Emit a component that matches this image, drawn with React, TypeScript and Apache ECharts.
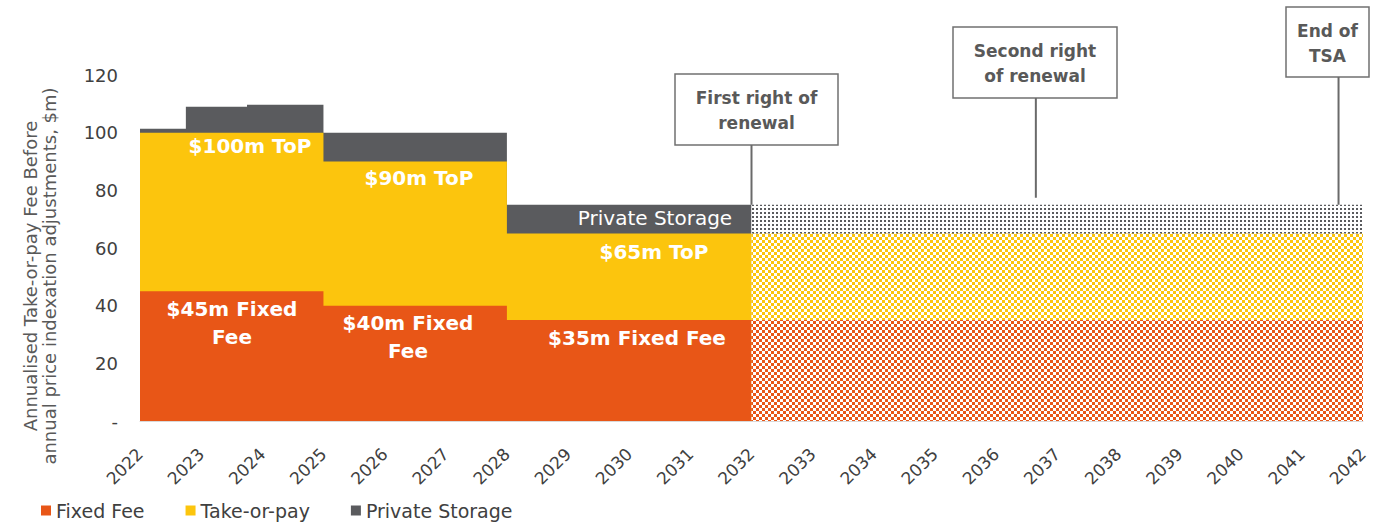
import React, { useEffect, useRef } from "react";
import * as echarts from "echarts";

// ---------- data ----------
const segmentStarts = [2022, 2022.75, 2023.75, 2025, 2028];
const segmentEnds = [2022.75, 2023.75, 2025, 2028, 2032];
const fixedFee = [45, 45, 45, 40, 35];
const takeOrPay = [55, 55, 55, 50, 30];
const privateStorage = [1.4, 9, 9.7, 10, 10];

const optionStart = 2032;
const optionEnd = 2042;
const optionFixedFee = 35;
const optionTakeOrPay = 30;
const optionPrivateStorage = 10;

const annotationYears = [2032, 2036.65, 2041.6];
const annotationTexts = ["First right of\nrenewal", "Second right\nof renewal", "End of\nTSA"];

const legendNames = ["Fixed Fee", "Take-or-pay", "Private Storage"];

const ORANGE = "#E85617";
const YELLOW = "#FCC50D";
const GRAY = "#5A5B5E";
const FONT = "DejaVu Sans";

function stepPoints(values: number[]) {
  const pts: number[][] = [];
  values.forEach((v, i) => {
    pts.push([segmentStarts[i], v]);
    pts.push([segmentEnds[i], v]);
  });
  return pts;
}

function checker(color: string, cell: number) {
  const c = document.createElement("canvas");
  c.width = cell * 2;
  c.height = cell * 2;
  const ctx = c.getContext("2d")!;
  ctx.fillStyle = "#ffffff";
  ctx.fillRect(0, 0, cell * 2, cell * 2);
  ctx.fillStyle = color;
  ctx.fillRect(0, 0, cell, cell);
  ctx.fillRect(cell, cell, cell, cell);
  return c;
}

function dots(color: string) {
  const c = document.createElement("canvas");
  c.width = 4;
  c.height = 4;
  const ctx = c.getContext("2d")!;
  ctx.fillStyle = "#ffffff";
  ctx.fillRect(0, 0, 4, 4);
  ctx.fillStyle = color;
  ctx.fillRect(0, 0, 2, 2);
  return c;
}

export default function App() {
  const ref = useRef<HTMLDivElement>(null);

  useEffect(() => {
    if (!ref.current) return;
    const chart = echarts.init(ref.current, null, { renderer: "svg" });

    const fixedTop = fixedFee;
    const topTop = fixedFee.map((v, i) => v + takeOrPay[i]);
    const totalTop = topTop.map((v, i) => v + privateStorage[i]);

    const optFixed = optionFixedFee;
    const optTop = optionFixedFee + optionTakeOrPay;
    const optTotal = optTop + optionPrivateStorage;

    const areaSeries = (name: string, data: number[][], color: any, legendColor: string, z: number) => ({
      name,
      type: "line",
      data,
      z,
      symbol: "none",
      showSymbol: false,
      silent: true,
      itemStyle: { color: legendColor },
      lineStyle: { width: 0, opacity: 0 },
      areaStyle: { color, opacity: 1, origin: "start" },
    });

    const boldLabel = (text: string, x: number, y: number, weight = "bold") => ({
      type: "text",
      x,
      y,
      z: 100,
      style: {
        text,
        fill: "#ffffff",
        font: `${weight} 20px "${FONT}"`,
        align: "center",
        verticalAlign: "middle",
        textAlign: "center",
        textVerticalAlign: "middle",
        lineHeight: 28,
      },
    });

    chart.setOption({
      animation: false,
      grid: { left: 140, right: 10, top: 75, bottom: 102, containLabel: false },
      xAxis: {
        type: "value",
        min: 2022,
        max: 2042,
        interval: 1,
        axisLine: { show: true, lineStyle: { color: "#d9d9d9", width: 1 } },
        axisTick: { show: false },
        splitLine: { show: false },
        axisLabel: {
          rotate: 45,
          margin: 30,
          color: "#404040",
          fontFamily: FONT,
          fontSize: 17,
          formatter: (v: number) => String(v),
        },
      },
      yAxis: {
        type: "value",
        min: 0,
        max: 120,
        interval: 20,
        axisLine: { show: false },
        axisTick: { show: false },
        splitLine: { show: false },
        axisLabel: {
          margin: 22,
          color: "#404040",
          fontFamily: FONT,
          fontSize: 18,
          formatter: (v: number) => (v === 0 ? "-" : String(v)),
        },
      },
      legend: {
        left: 36,
        top: 496,
        itemWidth: 10,
        itemHeight: 10,
        itemGap: 41,
        icon: "rect",
        textStyle: { fontFamily: FONT, fontSize: 19, color: "#404040" },
        data: legendNames,
      },
      series: [
        areaSeries("Private Storage", stepPoints(totalTop), GRAY, GRAY, 1),
        areaSeries("Take-or-pay", stepPoints(topTop), YELLOW, YELLOW, 2),
        areaSeries("Fixed Fee", stepPoints(fixedTop), ORANGE, ORANGE, 3),
        areaSeries("Option Private Storage", [[optionStart, optTotal], [optionEnd, optTotal]], { image: dots(GRAY), repeat: "repeat" }, GRAY, 1),
        areaSeries("Option Take-or-pay", [[optionStart, optTop], [optionEnd, optTop]], { image: checker(YELLOW, 3), repeat: "repeat" }, YELLOW, 2),
        areaSeries("Option Fixed Fee", [[optionStart, optFixed], [optionEnd, optFixed]], { image: checker(ORANGE, 3), repeat: "repeat" }, ORANGE, 3),
      ],
    });

    const topY = chart.convertToPixel({ yAxisIndex: 0 }, optTotal) as number;
    const ax = annotationYears.map((y) => chart.convertToPixel({ xAxisIndex: 0 }, y) as number);
    const boxes = [
      { x0: 675, y0: 74, x1: 838, y1: 145, lineEnd: topY },
      { x0: 953, y0: 27, x1: 1117, y1: 98, lineEnd: topY - 7 },
      { x0: 1286, y0: 7, x1: 1369, y1: 77, lineEnd: topY },
    ];

    const graphics: any[] = [];
    boxes.forEach((b, i) => {
      graphics.push({
        type: "rect",
        z: 100,
        shape: { x: b.x0, y: b.y0, width: b.x1 - b.x0, height: b.y1 - b.y0 },
        style: { fill: "#ffffff", stroke: "#707070", lineWidth: 1.5 },
      });
      graphics.push({
        type: "text",
        z: 101,
        x: (b.x0 + b.x1) / 2,
        y: (b.y0 + b.y1) / 2 + 1,
        style: {
          text: annotationTexts[i],
          fill: "#595959",
          font: `bold 17px "${FONT}"`,
          align: "center",
          verticalAlign: "middle",
          textAlign: "center",
          textVerticalAlign: "middle",
          lineHeight: 25,
        },
      });
      graphics.push({
        type: "line",
        z: 100,
        shape: { x1: ax[i], y1: b.y1, x2: ax[i], y2: b.lineEnd },
        style: { stroke: "#6a6a6a", lineWidth: 2 },
      });
    });

    graphics.push(boldLabel("$100m ToP", 250, 146));
    graphics.push(boldLabel("$90m ToP", 419, 178));
    graphics.push(boldLabel("Private Storage", 655, 218, "normal"));
    graphics.push(boldLabel("$65m ToP", 654, 252));
    graphics.push(boldLabel("$45m Fixed\nFee", 232, 323));
    graphics.push(boldLabel("$40m Fixed\nFee", 408, 337));
    graphics.push(boldLabel("$35m Fixed Fee", 637, 338));

    graphics.push({
      type: "text",
      x: 40,
      y: 276,
      rotation: Math.PI / 2,
      style: {
        text: "Annualised Take-or-pay Fee Before\nannual price indexation adjustments, $m)",
        fill: "#595959",
        font: `18px "${FONT}"`,
        align: "center",
        verticalAlign: "middle",
        textAlign: "center",
        textVerticalAlign: "middle",
        lineHeight: 19,
      },
    });

    chart.setOption({ graphic: graphics });

    return () => chart.dispose();
  }, []);

  return (
    <div
      ref={ref}
      style={{ position: "fixed", left: 0, top: 0, width: 1373, height: 523, background: "#ffffff" }}
    />
  );
}
